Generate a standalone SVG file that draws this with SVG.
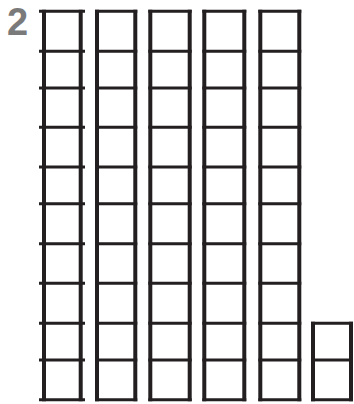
<svg xmlns="http://www.w3.org/2000/svg" width="354" height="404" viewBox="0 0 354 404">
<style>
.v{fill:none;stroke:#231f20;stroke-width:4}
.h{fill:none;stroke:#231f20;stroke-width:3}
.num{font-family:"Liberation Sans",Arial,sans-serif;font-weight:bold;font-size:38px;fill:#7a7a7a}
</style>
<rect width="354" height="404" fill="#ffffff"/>
<text class="num" x="7" y="35">2</text>
<g id="col1">
<path class="v" d="M44 9.7V401.3M80.7 9.7V401.3"/>
<path class="h" d="M39 11.3H85M39 51.3H85M39 88H85M39 127.3H85M39 167H85M39 203.7H85M39 243.8H85M39 283.3H85M39 323.3H85M39 360H85M39 399.7H85"/>
</g>
<g id="col2">
<path class="v" d="M97 9.7V401.3M135.3 9.7V401.3"/>
<path class="h" d="M95 11.3H137.3M95 51.3H137.3M95 88H137.3M95 127.3H137.3M95 167H137.3M95 203.7H137.3M95 243.8H137.3M95 283.3H137.3M95 323.3H137.3M95 360H137.3M95 399.7H137.3"/>
</g>
<g id="col3">
<path class="v" d="M150.3 9.7V401.3M189.7 9.7V401.3"/>
<path class="h" d="M148.3 11.3H191.7M148.3 51.3H191.7M148.3 88H191.7M148.3 127.3H191.7M148.3 167H191.7M148.3 203.7H191.7M148.3 243.8H191.7M148.3 283.3H191.7M148.3 323.3H191.7M148.3 360H191.7M148.3 399.7H191.7"/>
</g>
<g id="col4">
<path class="v" d="M204.3 9.7V401.3M244.3 9.7V401.3"/>
<path class="h" d="M202.3 11.3H246.3M202.3 51.3H246.3M202.3 88H246.3M202.3 127.3H246.3M202.3 167H246.3M202.3 203.7H246.3M202.3 243.8H246.3M202.3 283.3H246.3M202.3 323.3H246.3M202.3 360H246.3M202.3 399.7H246.3"/>
</g>
<g id="col5">
<path class="v" d="M260.3 9.7V401.3M299.3 9.7V401.3"/>
<path class="h" d="M258.3 11.3H301.3M258.3 51.3H301.3M258.3 88H301.3M258.3 127.3H301.3M258.3 167H301.3M258.3 203.7H301.3M258.3 243.8H301.3M258.3 283.3H301.3M258.3 323.3H301.3M258.3 360H301.3M258.3 399.7H301.3"/>
</g>
<g id="ones">
<path class="v" d="M313 321.7V401.3M351 321.7V401.3"/>
<path class="h" d="M311 323.3H353M311 360H353M311 399.7H353"/>
</g>
<g id="connectors"></g>
</svg>
